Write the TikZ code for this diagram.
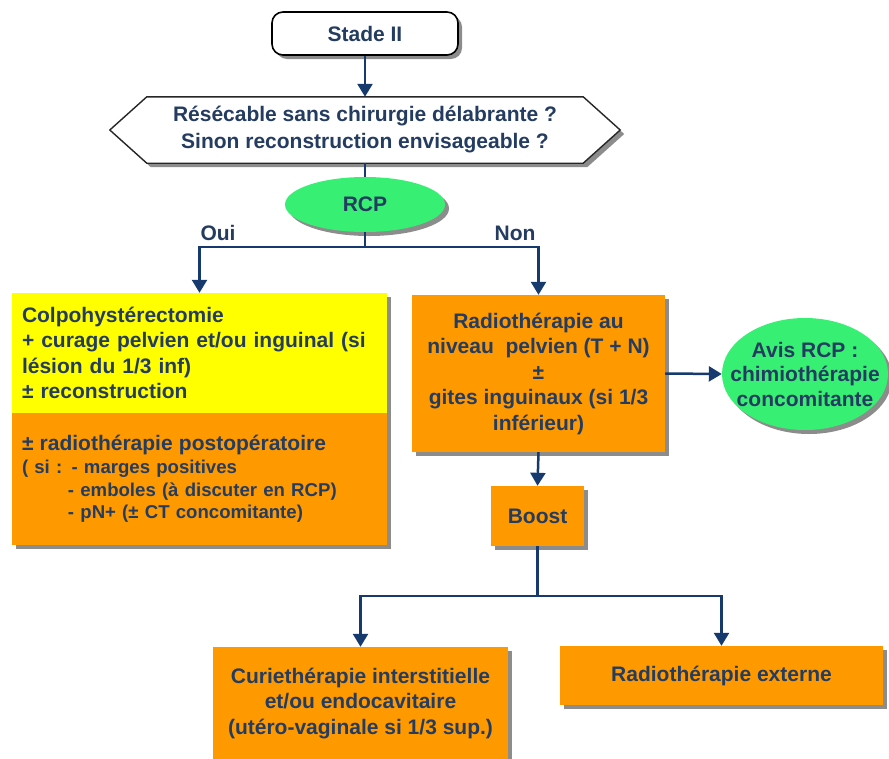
\documentclass[tikz,border=0pt]{standalone}
\usepackage{fontspec}
\setmainfont{Liberation Sans}
\usetikzlibrary{arrows.meta,shapes.geometric,shadows,backgrounds}
\definecolor{navy}{RGB}{22,58,110}
\definecolor{txt}{RGB}{36,60,96}
\definecolor{orng}{RGB}{255,153,0}
\definecolor{yel}{RGB}{255,255,0}
\definecolor{grn}{RGB}{55,240,115}
\tikzset{
  shad/.style={drop shadow={shadow xshift=4pt, shadow yshift=-4pt, fill=black!60, opacity=0.75}},
  bigfont/.style={font=\bfseries\fontsize{21}{25.5}\selectfont},
  plain/.style={bigfont, text=txt, align=center, inner sep=0pt},
  stadebox/.style={plain, rectangle, rounded corners=11pt, draw=black, line width=1.6pt, fill=white, shad},
  hexline/.style={draw=black!85, line width=1.4pt, fill=white, shad},
  ell/.style={ellipse, fill=grn, shad, inner sep=0pt},
  ybox/.style={plain, rectangle, fill=yel, shad},
  obox/.style={plain, rectangle, fill=orng, shad},
  lbl/.style={bigfont, text=txt, inner sep=0pt},
  ln/.style={draw=navy, line width=2.5pt},
  arr/.style={ln, -{Triangle[width=15pt,length=13pt]}},
}
\begin{document}
\begin{tikzpicture}[x=1pt,y=-1pt]
\useasboundingbox (0,0) rectangle (889,758);

% nodes
\node[stadebox, minimum width=186pt, minimum height=43pt] (stade) at (365,33.5) {Stade II};
\node[plain, minimum width=436pt, minimum height=66pt,
      font=\bfseries\fontsize{21}{27}\selectfont] (hex) at (365,130)
  {Résécable sans chirurgie délabrante ?\\Sinon reconstruction envisageable ?};
\begin{scope}[on background layer]
  \path[hexline] ([xshift=-37pt]hex.west) -- (hex.north west) -- (hex.north east)
     -- ([xshift=37pt]hex.east) -- (hex.south east) -- (hex.south west) -- cycle;
\end{scope}

\node[ell, minimum width=160pt, minimum height=55pt,
      label={[plain]center:RCP}] (rcp) at (365,204.5) {};
\node[lbl] (oui) at (218,233) {Oui};
\node[lbl] (non) at (515,233) {Non};

\node[ybox, minimum width=375pt, minimum height=120pt, text width=355pt, align=left]
  (colpo) at (199.5,353)
  {Colpohystérectomie\\+ curage pelvien et/ou inguinal (si\\lésion du 1/3 inf)\\± reconstruction};
\node[obox, minimum width=375pt, minimum height=132pt, text width=355pt, align=left,
      font=\bfseries\fontsize{18.6}{22.6}\selectfont]
  (postop) at (199.5,479)
  {{\fontsize{21}{22.6}\selectfont ± radiothérapie postopératoire}\\
   ( si : - marges positives\\
   \hspace*{46pt}- emboles (à discuter en RCP)\\
   \hspace*{46pt}- pN+ (± CT concomitante)};

\node[obox, minimum width=253pt, minimum height=157pt] (radio) at (538.5,373.5)
  {Radiothérapie au\\niveau\ \ pelvien (T + N)\\±\\gites inguinaux (si 1/3\\inférieur)};
\node[ell, minimum width=166pt, minimum height=112pt,
      label={[plain, font=\bfseries\fontsize{21}{24.5}\selectfont]center:Avis RCP :\\chimiothérapie\\concomitante}]
  (avis) at (805,374) {};

\node[obox, minimum width=93pt, minimum height=60pt] (boost) at (537.5,516) {Boost};
\node[obox, minimum width=295pt, minimum height=113pt] (curie) at (360.5,703.5)
  {Curiethérapie interstitielle\\et/ou endocavitaire\\(utéro-vaginale si 1/3 sup.)};
\node[obox, minimum width=323pt, minimum height=59pt] (externe) at (721.5,675.5)
  {Radiothérapie externe};

% connectors
\coordinate (j1) at (365,247);
\coordinate (j2) at (537.5,596);
\draw[arr] (stade.south) -- (hex.north);
\draw[ln] (hex.south) -- (rcp.north);
\draw[ln] (rcp.south) -- (j1);
\draw[arr] (j1) -| (colpo.north);
\draw[arr] (j1) -| (radio.north);
\draw[arr] (radio.east) -- (avis.west);
\draw[arr] (radio.south) -- (boost.north);
\draw[ln] (boost.south) -- (j2);
\draw[arr] (j2) -| (curie.north);
\draw[arr] (j2) -| (externe.north);
\end{tikzpicture}
\end{document}
